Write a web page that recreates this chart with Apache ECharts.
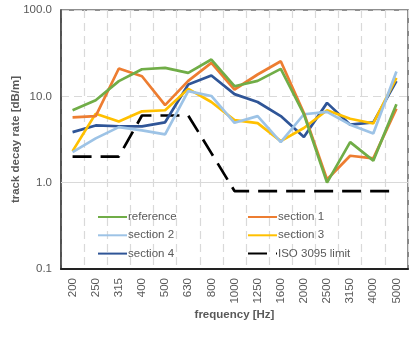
<!DOCTYPE html>
<html>
<head>
<meta charset="utf-8">
<style>html,body{margin:0;padding:0;background:#fff;}#c{width:420px;height:337px;}</style>
<script src="https://cdn.jsdelivr.net/npm/echarts@6/dist/echarts.min.js"></script>
</head>
<body>
<div id="c"></div>
<script>
const categories = ['200','250','315','400','500','630','800','1000','1250','1600','2000','2500','3150','4000','5000'];
const reference = [6.9, 9.0, 15.0, 20.6, 21.4, 18.7, 26.7, 13.1, 15.1, 20.8, 6.2, 1.0, 2.95, 1.8, 8.1];
const section1 = [5.7, 5.9, 21.0, 17.1, 7.9, 15.1, 24.4, 12.0, 17.9, 25.5, 6.4, 1.09, 2.05, 1.91, 7.2];
const section2 = [2.26, 3.26, 4.4, 4.03, 3.62, 11.5, 10.1, 4.94, 5.9, 2.95, 6.2, 6.6, 4.7, 3.72, 19.4];
const section3 = [2.32, 6.3, 5.1, 6.7, 6.9, 12.2, 8.6, 5.3, 4.9, 3.03, 4.3, 6.9, 5.5, 4.85, 16.4];
const section4 = [3.85, 4.6, 4.5, 4.48, 5.0, 13.7, 17.4, 10.6, 8.6, 5.9, 3.37, 8.4, 4.7, 5.0, 15.0];
const isoLimit = [2, 2, 2, 6, 6, 6, 2.2, 0.8, 0.8, 0.8, 0.8, 0.8, 0.8, 0.8, 0.8];
const yTicks = [0.1, 1, 10, 100];

const seriesDefs = [
  {name: 'reference', data: reference, color: '#70AD47'},
  {name: 'section 1', data: section1, color: '#ED7D31'},
  {name: 'section 2', data: section2, color: '#9DC3E6'},
  {name: 'section 3', data: section3, color: '#FFC000'},
  {name: 'section 4', data: section4, color: '#2F5597'},
  {name: 'ISO 3095 limit', data: isoLimit, color: '#000000', dash: [19, 9]}
];

const txt = '#595959';
const font = 'Liberation Sans, Arial, sans-serif';
const chart = echarts.init(document.getElementById('c'), null, {renderer: 'canvas'});

const series = seriesDefs.map((s, i) => ({
  name: s.name,
  type: 'line',
  data: s.data,
  symbol: 'none',
  smooth: false,
  z: 10 - i,
  color: s.color,
  lineStyle: {color: s.color, width: 2.7, type: s.dash || 'solid', cap: 'butt'},
  emphasis: {disabled: true}
}));
series[0].markLine = {
  silent: true, symbol: 'none', label: {show: false}, z: 1,
  lineStyle: {color: '#d9d9d9', width: 1.2, type: 'solid'},
  data: [{yAxis: yTicks[1]}]
};

const legendCommon = {
  orient: 'vertical', itemWidth: 29, itemHeight: 14, itemGap: 6.3,
  top: 211, padding: 0,
  itemStyle: {opacity: 0},
  textStyle: {color: txt, fontSize: 11.5, fontFamily: font, padding: [0, 0, 0, -4]},
  selectedMode: false
};

chart.setOption({
  animation: false,
  backgroundColor: '#fff',
  grid: {left: 61, right: 12, top: 10, bottom: 68, containLabel: false, outerBoundsMode: 'none',
    show: true, borderColor: '#6b6b6b', borderWidth: 1.6, backgroundColor: 'transparent'},
  legend: [
    Object.assign({}, legendCommon, {left: 97, data: ['reference', 'section 2', 'section 4']}),
    Object.assign({}, legendCommon, {left: 247, data: ['section 1', 'section 3', 'ISO 3095 limit']})
  ],
  xAxis: {
    type: 'category', data: categories, boundaryGap: true,
    name: 'frequency [Hz]', nameLocation: 'middle', nameGap: 40, nameMoveOverlap: false,
    nameTextStyle: {color: txt, fontSize: 11.5, fontWeight: 'bold', fontFamily: font},
    axisLine: {lineStyle: {color: '#222', width: 2}},
    axisTick: {show: false},
    axisLabel: {rotate: 90, color: txt, fontSize: 11.5, fontFamily: font, margin: 9, interval: 0},
    splitLine: {show: true, interval: 0, lineStyle: {color: '#d9d9d9', width: 1.2, type: [8, 5]}}
  },
  yAxis: {
    type: 'log', logBase: 10, min: yTicks[0], max: yTicks[3],
    name: 'track decay rate [dB/m]', nameLocation: 'middle', nameGap: 39, nameRotate: 90, nameMoveOverlap: false,
    nameTextStyle: {color: txt, fontSize: 11.5, fontWeight: 'bold', fontFamily: font},
    axisLine: {show: true, lineStyle: {color: '#444', width: 1.6}},
    axisTick: {show: false},
    axisLabel: {color: txt, fontSize: 11.5, fontFamily: font, margin: 9, formatter: v => Number(v).toFixed(1)},
    splitLine: {show: true, lineStyle: {color: '#d9d9d9', width: 1.2, type: [8, 5]}}
  },
  series: series
});
</script>
</body>
</html>
